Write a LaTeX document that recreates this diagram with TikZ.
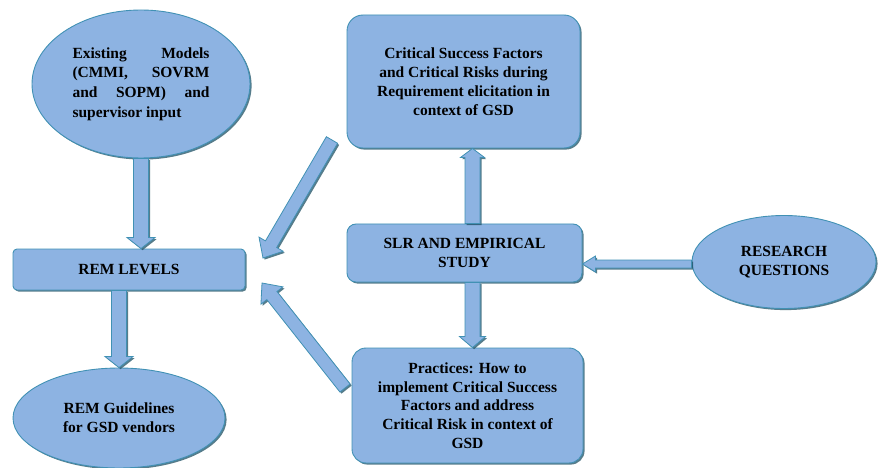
\documentclass[tikz,border=0pt]{standalone}
\usepackage{fontspec}
\setmainfont{Liberation Serif}
\newfontfamily\tnr{Liberation Serif}
\usetikzlibrary{shapes.geometric,calc,shadows}
\hyphenpenalty=10000
\definecolor{boxfill}{RGB}{141,179,226}
\definecolor{boxline}{RGB}{65,145,180}
\definecolor{shadecol}{RGB}{30,80,100}
\tikzset{
  shad/.style={drop shadow={shadow xshift=1.6pt, shadow yshift=-1.6pt, fill=shadecol, opacity=0.75}},
  base/.style={fill=boxfill, draw=boxline, line width=0.9pt, shad,
    font=\tnr\bfseries\fontsize{15.5}{18.8}\selectfont, inner sep=0pt, align=center},
  ell/.style={base, ellipse},
  rbox/.style={base, rectangle, rounded corners=#1},
  barrow/.style={fill=boxfill, draw=boxline, line width=0.8pt, shad, line join=miter}
}
% #1 from, #2 to, #3 half shaft, #4 half head, #5 head length
\newcommand\blockarrow[5]{%
  \coordinate (bh) at ($(#2)!#5!(#1)$);
  \path[barrow] ($(#1)!#3!90:(#2)$) -- ($(bh)!#3!90:(#2)$) -- ($(bh)!#4!90:(#2)$)
    -- (#2) -- ($(bh)!#4!-90:(#2)$) -- ($(bh)!#3!-90:(#2)$) -- ($(#1)!#3!-90:(#2)$) -- cycle;}
\begin{document}
\begin{tikzpicture}[x=1pt,y=-1pt]
\useasboundingbox (0,0) rectangle (879,468);
\node[ell, minimum width=218pt, minimum height=148pt, text width=137pt, align=justify,
      font=\tnr\bfseries\fontsize{15.5}{19.6}\selectfont] (ex) at (141,84)
  {Existing Models (CMMI, SOVRM and SOPM) and supervisor input};
\node[rbox=4pt, minimum width=232pt, minimum height=41pt] (rem) at (129,269.5) {REM LEVELS};
\node[ell, minimum width=212pt, minimum height=100pt] (guide) at (119,418) {REM Guidelines\\for GSD vendors};
\node[rbox=16pt, minimum width=233pt, minimum height=133pt] (csf) at (463.5,81.5)
  {Critical Success Factors\\and Critical Risks during\\Requirement elicitation in\\context of GSD};
\node[rbox=9pt, minimum width=235pt, minimum height=58pt] (slr) at (464.5,253) {SLR AND EMPIRICAL\\STUDY};
\node[rbox=14pt, minimum width=231pt, minimum height=115pt] (prac) at (467.5,405.5)
  {Practices: How to\\implement Critical Success\\Factors and address\\Critical Risk in context of\\GSD};
\node[ell, minimum width=184pt, minimum height=93pt] (rq) at (784,262) {RESEARCH\\QUESTIONS};
% connector end points
\coordinate (a1s) at (ex.south);
\coordinate (a1e) at (ex.south |- rem.north);
\coordinate (a2s) at (guide.north |- rem.south);
\coordinate (a2e) at (guide.north);
\coordinate (u1) at ([xshift=8pt]slr.north);
\coordinate (u2) at (u1 |- csf.south);
\coordinate (v1) at ([xshift=8pt]slr.south);
\coordinate (v2) at (v1 |- prac.north);
\coordinate (r1) at ([yshift=-2pt]rq.west);
\coordinate (r2) at (r1 -| slr.east);
\coordinate (d1s) at (332,140);
\coordinate (d1e) at (263,258);
\coordinate (d2s) at (345,388);
\coordinate (d2e) at (262,283);
\blockarrow{a1s}{a1e}{7.5pt}{14pt}{11pt}
\blockarrow{a2s}{a2e}{7.5pt}{14pt}{11pt}
\blockarrow{u1}{u2}{7.5pt}{12pt}{9pt}
\blockarrow{v1}{v2}{7.5pt}{13pt}{11pt}
\blockarrow{r1}{r2}{4pt}{8pt}{13pt}
\blockarrow{d1s}{d1e}{6.5pt}{14pt}{16pt}
\blockarrow{d2s}{d2e}{6.5pt}{14pt}{16pt}
\end{tikzpicture}
\end{document}
